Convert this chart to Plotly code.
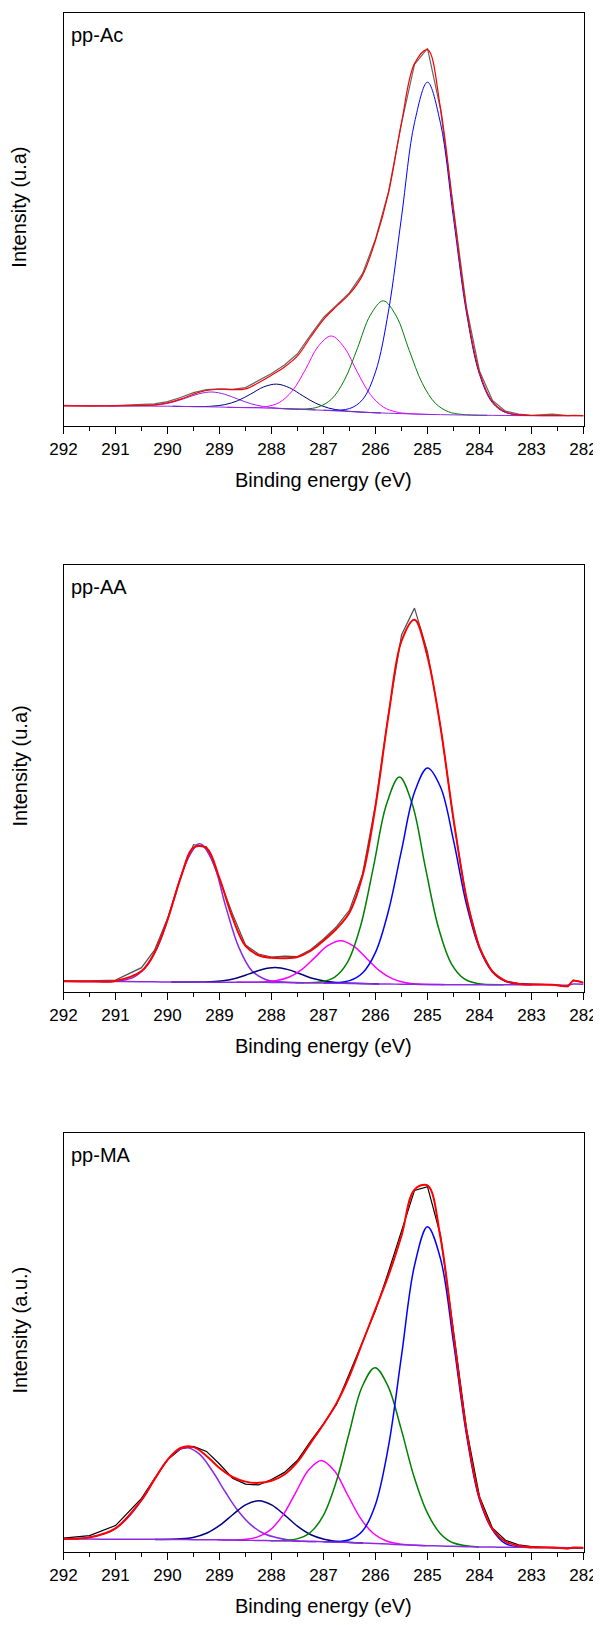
import plotly.graph_objects as go

# ---------------- data (intensity in % of plot height, a.u.) ----------------
ENERGY = [292, 291.5, 291, 290.5, 290.25, 290, 289.75, 289.5, 289.25, 289, 288.75, 288.5,
          288.25, 288, 287.75, 287.5, 287.25, 287, 286.75, 286.5, 286.25, 286, 285.75, 285.5,
          285.25, 285, 284.75, 284.5, 284.25, 284, 283.75, 283.5, 283.25, 283, 282.6, 282.3,
          282.2, 282]

# ---- pp-Ac ----
AC_DATA = [5.0, 4.8, 4.95, 5.1, 5.35, 5.9, 6.9, 8.1, 8.8, 9.0, 8.9, 9.3, 10.9, 12.7, 14.8, 17.5,
           22.0, 26.3, 29.3, 32.3, 36.9, 45.3, 56.8, 73.3, 87.6, 91.5, 76.7, 52.4, 28.7, 13.3,
           6.2, 3.6, 2.9, 2.6, 2.9, 2.5, 2.6, 2.5]
AC_FIT = [4.9, 4.9, 4.9, 5.0, 5.1, 5.6, 6.5, 7.7, 8.6, 8.9, 8.8, 9.0, 10.5, 12.3, 14.3, 17.0,
          21.5, 25.8, 29.0, 32.0, 36.5, 45.0, 56.5, 73.5, 87.8, 91.2, 77.0, 52.2, 28.3, 13.0,
          5.9, 3.4, 2.7, 2.55, 2.5, 2.5, 2.5, 2.5]
AC_BASE = [4.9, 4.9, 4.9, 4.85, 4.8, 4.8, 4.75, 4.7, 4.65, 4.6, 4.5, 4.45, 4.4, 4.3, 4.2, 4.1,
           3.95, 3.8, 3.65, 3.5, 3.35, 3.2, 3.1, 3.0, 2.9, 2.8, 2.75, 2.7, 2.65, 2.6, 2.58, 2.55,
           2.52, 2.5, 2.5, 2.5, 2.5, 2.5]
AC_P1_X = [291.15, 290.65, 290.4, 290.15, 289.9, 289.65, 289.4, 289.15, 288.9, 288.65, 288.4,
           288.15, 287.9, 287.65, 287.15]
AC_P1_Y = [4.88, 4.88, 4.94, 5.18, 5.77, 6.76, 7.79, 8.24, 7.69, 6.53, 5.41, 4.71, 4.35, 4.14, 3.89]
AC_P2_X = [289.9, 289.4, 289.15, 288.9, 288.65, 288.4, 288.15, 287.9, 287.65, 287.4, 287.15,
           286.9, 286.65, 286.4, 285.9]
AC_P2_Y = [4.78, 4.70, 4.80, 5.17, 6.13, 7.75, 9.47, 10.15, 9.24, 7.33, 5.52, 4.34, 3.75, 3.47, 3.16]
AC_P3_X = [288.85, 288.35, 288.1, 287.85, 287.6, 287.35, 287.1, 286.85, 286.6, 286.35, 286.1,
           285.85, 285.6, 285.35, 284.85]
AC_P3_Y = [4.55, 4.47, 4.69, 5.69, 8.5, 13.63, 19.33, 21.81, 19.03, 13.06, 7.66, 4.6, 3.4, 3.0, 2.77]
AC_P4_X = [287.85, 287.35, 287.1, 286.85, 286.6, 286.35, 286.1, 285.85, 285.6, 285.35, 285.1,
           284.85, 284.6, 284.35, 283.85]
AC_P4_Y = [4.23, 4.14, 4.62, 6.46, 11.06, 18.75, 26.84, 30.34, 26.62, 18.28, 10.34, 5.52, 3.47,
           2.82, 2.59]
AC_P5_X = [287.0, 286.5, 286.25, 286.0, 285.75, 285.5, 285.25, 285.0, 284.75, 284.5, 284.25,
           284.0, 283.75, 283.5, 283.0]
AC_P5_Y = [3.82, 4.22, 6.39, 13.1, 27.84, 50.6, 73.5, 83.3, 73.35, 50.3, 27.39, 12.5, 5.62,
           3.27, 2.52]

# ---- pp-AA ----
AA_DATA = [2.6, 2.6, 2.8, 5.7, 9.8, 17.2, 26.9, 34.5, 34.0, 26.4, 18.3, 11.0, 8.9, 8.2, 8.4, 8.3,
           9.9, 12.4, 15.3, 19.2, 27.6, 43.9, 65.2, 83.6, 89.9, 79.7, 62.3, 40.2, 21.7, 10.3, 4.6,
           2.5, 2.0, 1.9, 1.7, 1.2, 2.8, 2.1]
AA_FIT = [2.5, 2.47, 2.6, 4.9, 9.2, 16.9, 26.6, 33.8, 33.7, 26.6, 17.4, 10.8, 8.6, 8.0, 7.9, 8.2,
          9.6, 12.0, 14.8, 18.6, 27.2, 43.5, 64.8, 82.2, 87.2, 78.5, 62.0, 40.5, 22.0, 10.5, 4.8,
          2.6, 1.9, 1.75, 1.7, 1.45, 2.6, 2.2]
AA_BASE = [2.5, 2.47, 2.45, 2.4, 2.38, 2.35, 2.33, 2.32, 2.3, 2.3, 2.28, 2.27, 2.26, 2.25, 2.21,
           2.18, 2.15, 2.1, 2.05, 2.0, 1.95, 1.9, 1.86, 1.83, 1.79, 1.75, 1.73, 1.71, 1.7, 1.7,
           1.7, 1.7, 1.7, 1.7, 1.72, 1.6, 1.85, 1.8]
AA_P1_X = [291.38, 290.88, 290.63, 290.38, 290.13, 289.88, 289.63, 289.38, 289.13, 288.88,
           288.63, 288.38, 288.13, 287.88, 287.38]
AA_P1_Y = [2.45, 2.70, 3.62, 6.38, 12.33, 21.52, 30.73, 34.71, 30.5, 20.0, 10.5, 5.0, 3.0, 2.45,
           2.17]
AA_P2_X = [289.93, 289.43, 289.18, 288.93, 288.68, 288.43, 288.18, 287.93, 287.68, 287.43,
           287.18, 286.93, 286.68, 286.43, 285.93]
AA_P2_Y = [2.34, 2.33, 2.4, 2.64, 3.24, 4.24, 5.29, 5.74, 5.24, 4.15, 3.1, 2.44, 2.15, 2.02, 1.89]
AA_P3_X = [288.67, 288.17, 287.92, 287.67, 287.42, 287.17, 286.92, 286.67, 286.42, 286.17,
           285.92, 285.67, 285.42, 285.17, 284.67]
AA_P3_Y = [2.28, 2.35, 2.62, 3.44, 5.26, 8.05, 10.85, 12.03, 10.75, 7.85, 4.96, 3.07, 2.18, 1.86,
           1.72]
AA_P4_X = [287.54, 287.04, 286.79, 286.54, 286.29, 286.04, 285.79, 285.54, 285.29, 285.04,
           284.79, 284.54, 284.29, 284.04, 283.54]
AA_P4_Y = [2.19, 2.39, 3.41, 6.91, 15.33, 29.26, 43.91, 50.33, 43.84, 29.11, 15.1, 6.61, 3.05,
           1.98, 1.7]
AA_P5_X = [287.0, 286.5, 286.25, 286.0, 285.75, 285.5, 285.25, 285.0, 284.75, 284.5, 284.25,
           284.0, 283.75, 283.5, 283.0]
AA_P5_Y = [2.12, 2.66, 4.45, 9.29, 19.03, 33.16, 46.76, 52.45, 48.0, 35.5, 20.5, 10.2, 4.7,
           2.5, 1.7]

# ---- pp-MA ----
MA_DATA = [3.3, 3.9, 6.3, 12.8, 17.5, 22.0, 24.6, 25.2, 24.0, 21.0, 17.6, 16.2, 16.0, 17.3, 19.0,
           21.9, 26.4, 30.6, 35.2, 42.6, 50.4, 57.6, 66.9, 76.7, 86.3, 87.2, 75.6, 52.6, 29.4,
           13.2, 5.7, 2.8, 1.7, 1.3, 1.1, 0.8, 1.0, 0.9]
MA_FIT = [3.15, 3.49, 5.65, 12.39, 17.34, 21.98, 24.83, 25.03, 22.93, 20.03, 17.9, 16.8, 16.5,
          17.0, 18.5, 21.5, 26.0, 30.5, 35.5, 42.0, 50.0, 58.0, 66.0, 75.5, 86.5, 87.5, 75.0,
          52.0, 29.0, 13.0, 5.5, 2.5, 1.5, 1.15, 1.05, 0.85, 1.05, 1.0]
MA_BASE = [3.1, 3.08, 3.05, 3.03, 3.02, 3.0, 2.97, 2.95, 2.92, 2.9, 2.85, 2.8, 2.75, 2.7, 2.63,
           2.57, 2.51, 2.45, 2.35, 2.25, 2.13, 2.0, 1.88, 1.75, 1.63, 1.5, 1.43, 1.35, 1.28, 1.2,
           1.17, 1.15, 1.12, 1.1, 1.06, 1.03, 1.02, 1.0]
MA_P1_X = [292.0, 291.64, 291.14, 290.89, 290.64, 290.39, 290.14, 289.89, 289.64, 289.39, 289.14,
           288.89, 288.64, 288.39, 288.14, 287.64, 287.14]
MA_P1_Y = [3.12, 3.3, 4.69, 6.67, 9.97, 14.52, 19.49, 23.45, 24.96, 23.4, 19.39, 14.38, 9.77, 6.41,
           4.37, 2.82, 2.48]
MA_P2_X = [290.24, 289.74, 289.49, 289.24, 288.99, 288.74, 288.49, 288.24, 287.99, 287.74, 287.49,
           287.24, 286.99, 286.74, 286.24]
MA_P2_Y = [3.0, 3.15, 3.54, 4.53, 6.4, 8.95, 11.3, 12.25, 11.19, 8.73, 6.07, 4.12, 3.04, 2.53, 2.12]
MA_P3_X = [289.04, 288.54, 288.29, 288.04, 287.79, 287.54, 287.29, 287.04, 286.79, 286.54, 286.29,
           286.04, 285.79, 285.54, 285.04]
MA_P3_Y = [2.9, 2.98, 3.49, 5.09, 8.61, 14.06, 19.52, 21.86, 19.37, 13.72, 8.1, 4.41, 2.63, 1.94,
           1.52]
MA_P4_X = [288.01, 287.51, 287.26, 287.01, 286.76, 286.51, 286.26, 286.01, 285.76, 285.51, 285.26,
           285.01, 284.76, 284.51, 284.01]
MA_P4_Y = [2.7, 3.13, 4.59, 8.57, 16.57, 28.21, 39.38, 44.0, 39.6, 29.5, 18.0, 9.5, 4.5, 2.2, 1.2]
MA_P5_X = [287.0, 286.5, 286.25, 286.0, 285.75, 285.5, 285.25, 285.0, 284.75, 284.5, 284.25,
           284.0, 283.75, 283.5, 283.0]
MA_P5_Y = [2.47, 2.93, 5.01, 11.36, 25.28, 46.8, 68.37, 77.6, 70.0, 50.0, 28.0, 12.5, 5.3, 2.0,
           1.1]

LABELS = ["pp-Ac", "pp-AA", "pp-MA"]
YTITLES = ["Intensity (u.a)", "Intensity (u.a)", "Intensity (a.u.)"]
XTITLE = "Binding energy (eV)"

# ---------------- figure ----------------
PAGE_W, PAGE_H = 601, 1625
OFF = 8                       # default body margin of the html page
W, H = PAGE_W - OFF, PAGE_H - OFF
FONT = "Arial, 'Liberation Sans', sans-serif"


def px_x(x):                  # page pixel -> paper fraction
    return (x - OFF) / W


def px_y(y):
    return 1 - (y - OFF) / H


X_DOM = [px_x(63.5), px_x(583.5)]
PANEL_PX = [(13.3, 426.0), (565.0, 992.0), (1133.0, 1552.0)]

C_VIOLET = "#8A2BE2"
C_NAVY = "#000080"
C_MAGENTA = "#FF00FF"
C_GREEN = "#008000"
C_BLUE = "#0000FF"
C_RED = "#FF0000"
C_DATA = ["#666666", "#505050", "#000000"]

panels = [
    dict(data=AC_DATA, fit=AC_FIT, base=AC_BASE,
         comps=[(AC_P1_X, AC_P1_Y, C_VIOLET), (AC_P2_X, AC_P2_Y, C_NAVY),
                (AC_P3_X, AC_P3_Y, C_MAGENTA), (AC_P4_X, AC_P4_Y, C_GREEN),
                (AC_P5_X, AC_P5_Y, C_BLUE)], lw=1.0, fitw=1.2),
    dict(data=AA_DATA, fit=AA_FIT, base=AA_BASE,
         comps=[(AA_P1_X, AA_P1_Y, C_VIOLET), (AA_P2_X, AA_P2_Y, C_NAVY),
                (AA_P3_X, AA_P3_Y, C_MAGENTA), (AA_P4_X, AA_P4_Y, C_GREEN),
                (AA_P5_X, AA_P5_Y, C_BLUE)], lw=1.5, fitw=2.0),
    dict(data=MA_DATA, fit=MA_FIT, base=MA_BASE,
         comps=[(MA_P1_X, MA_P1_Y, C_VIOLET), (MA_P2_X, MA_P2_Y, C_NAVY),
                (MA_P3_X, MA_P3_Y, C_MAGENTA), (MA_P4_X, MA_P4_Y, C_GREEN),
                (MA_P5_X, MA_P5_Y, C_BLUE)], lw=1.5, fitw=2.0),
]

fig = go.Figure()
layout = dict(width=W, height=H, margin=dict(l=0, r=0, t=0, b=0, autoexpand=False),
              autosize=False, paper_bgcolor="white", plot_bgcolor="white", showlegend=False,
              font=dict(family=FONT, color="black"))
annotations = []

for i, p in enumerate(panels):
    n = "" if i == 0 else str(i + 1)
    xa, ya = "x" + n, "y" + n
    top, bot = PANEL_PX[i]
    layout["xaxis" + n] = dict(
        domain=X_DOM, anchor=ya, range=[292, 282], tick0=282, dtick=1,
        ticks="outside", ticklen=7, tickwidth=1.3, tickcolor="black",
        minor=dict(dtick=0.5, ticks="outside", ticklen=4, tickwidth=1.3, tickcolor="black"),
        showline=True, mirror=True, linecolor="black", linewidth=1.3,
        showgrid=False, zeroline=False, automargin=False, ticklabeloverflow="allow",
        tickfont=dict(family=FONT, size=17, color="black"))
    layout["yaxis" + n] = dict(
        domain=[px_y(bot), px_y(top)], anchor=xa, range=[0, 100],
        showticklabels=False, ticks="", showline=True, mirror=True, automargin=False,
        linecolor="black", linewidth=1.3, showgrid=False, zeroline=False)

    fig.add_trace(go.Scatter(x=ENERGY, y=p["data"], mode="lines", xaxis=xa, yaxis=ya,
                             line=dict(color=C_DATA[i], width=1.2)))
    for cx, cy, col in p["comps"]:
        fig.add_trace(go.Scatter(x=cx, y=cy, mode="lines", xaxis=xa, yaxis=ya,
                                 line=dict(color=col, width=p["lw"], shape="spline",
                                           smoothing=1.0)))
    fig.add_trace(go.Scatter(x=ENERGY, y=p["base"], mode="lines", xaxis=xa, yaxis=ya,
                             line=dict(color=C_VIOLET, width=p["lw"], shape="spline")))
    fig.add_trace(go.Scatter(x=ENERGY, y=p["fit"], mode="lines", xaxis=xa, yaxis=ya,
                             line=dict(color=C_RED, width=p["fitw"], shape="spline",
                                       smoothing=1.0)))

    annotations.append(dict(text=LABELS[i], x=px_x(69), y=px_y(top + 22), xref="paper",
                            yref="paper", xanchor="left", yanchor="middle", showarrow=False,
                            font=dict(family=FONT, size=20, color="black")))
    annotations.append(dict(text=XTITLE, x=(X_DOM[0] + X_DOM[1]) / 2, y=px_y(bot + 54),
                            xref="paper", yref="paper", xanchor="center", yanchor="middle",
                            showarrow=False, font=dict(family=FONT, size=20, color="black")))
    annotations.append(dict(text=YTITLES[i], x=px_x(19), y=px_y((top + bot) / 2 - 12),
                            xref="paper", yref="paper", xanchor="center", yanchor="middle",
                            textangle=-90, showarrow=False,
                            font=dict(family=FONT, size=20, color="black")))

layout["annotations"] = annotations
fig.update_layout(**layout)
fig.write_html("out.html")
